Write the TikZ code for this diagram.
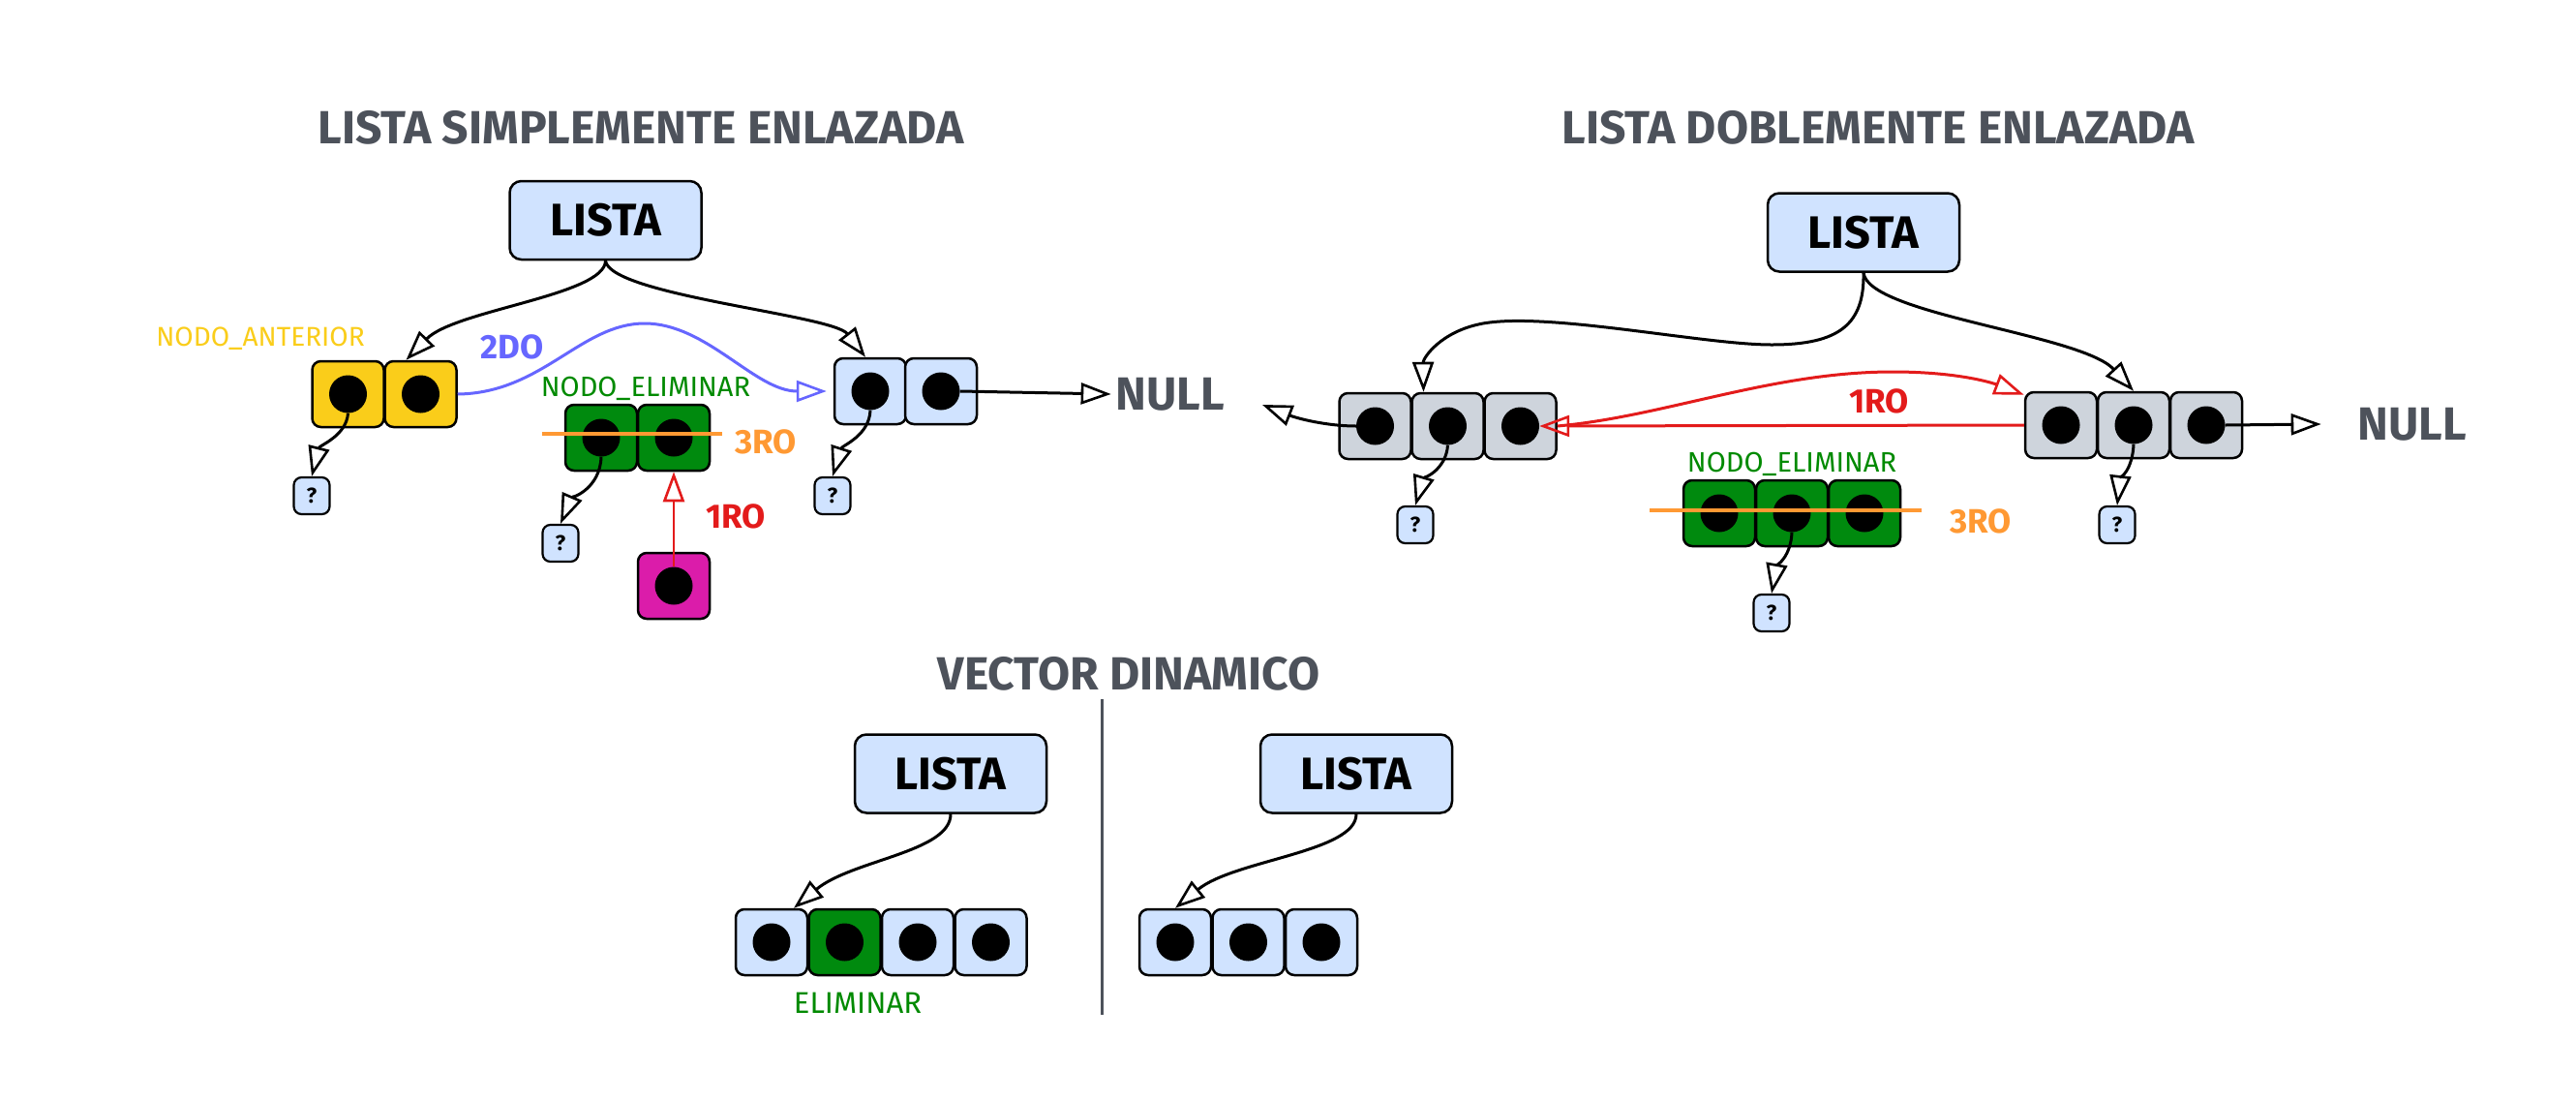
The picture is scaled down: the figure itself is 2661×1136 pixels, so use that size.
\documentclass[tikz,border=0pt]{standalone}
\usepackage{fontspec}
\setmainfont{Fira Sans}
\usetikzlibrary{arrows.meta,calc}
\definecolor{lblue}{HTML}{D0E3FF}
\definecolor{cgray}{HTML}{CED4DC}
\definecolor{cyellow}{HTML}{FACD1A}
\definecolor{cgreen}{HTML}{008A0E}
\definecolor{lgreen}{HTML}{008A00}
\definecolor{cpink}{HTML}{DB1CAA}
\definecolor{tgray}{HTML}{4D525B}
\definecolor{cblue}{HTML}{6666FF}
\definecolor{cred}{HTML}{E31B1B}
\definecolor{corange}{HTML}{FF9933}
\begin{document}
\begin{tikzpicture}[x=1pt,y=-1pt,
  title/.style={text=tgray, font=\fontsize{48}{54}\selectfont\bfseries, inner sep=0pt},
  listabox/.style={draw, line width=2.5pt, rounded corners=12pt, fill=lblue, minimum width=198pt, minimum height=81pt, inner sep=0pt, font=\fontsize{47}{52}\selectfont\bfseries},
  cell/.style={draw, line width=2.5pt, rounded corners=9pt, minimum width=74pt, minimum height=68pt, inner sep=0pt},
  dot/.style={circle, fill=black, minimum size=39pt, inner sep=0pt},
  qbox/.style={draw, line width=2.2pt, rounded corners=8pt, fill=lblue, minimum width=37pt, minimum height=38pt, inner sep=0pt, font=\fontsize{22}{24}\selectfont\bfseries},
  conn/.style={line width=3pt, -{Triangle[open, length=31pt, width=22pt, line width=2.6pt]}},
  lbl/.style={font=\fontsize{28}{32}\selectfont, inner sep=0pt},
  blbl/.style={font=\fontsize{35}{40}\selectfont\bfseries, inner sep=0pt},
  strike/.style={corange, line width=4pt}
]
\path[use as bounding box, fill=white] (0,0) rectangle (2661,1136);

% ================= LEFT: simplemente enlazada =================
\node[title] (tL) at (662,132) {LISTA SIMPLEMENTE ENLAZADA};
\node[listabox] (lL) at (625.5,227.5) {LISTA};

\node[cell, fill=cyellow] (ya) at (359.5,407) {};
\node[cell, fill=cyellow] (yb) at (434.5,407) {};
\node[dot] (yad) at (ya) {};
\node[dot] (ybd) at (yb) {};

\node[cell, fill=lblue] (ba) at (899,404) {};
\node[cell, fill=lblue] (bb) at (972,404) {};
\node[dot] (bad) at (ba) {};
\node[dot] (bbd) at (bb) {};

\node[cell, fill=cgreen] (ga) at (621,452) {};
\node[cell, fill=cgreen] (gb) at (696,452) {};
\node[dot] (gad) at (ga) {};
\node[dot] (gbd) at (gb) {};

\node[cell, fill=cpink] (pk) at (696,605) {};
\node[dot] (pkd) at (pk) {};

\node[qbox] (q1) at (322,512) {?};
\node[qbox] (q2) at (579,561) {?};
\node[qbox] (q3) at (860,512) {?};

\node[title] (nullL) at (1209,407) {NULL};
\node[lbl, text=cyellow] (nant) at (269,350) {NODO\_ANTERIOR};
\node[lbl, font=\fontsize{29}{32}\selectfont, text=lgreen] (nelL) at (667,401) {NODO\_ELIMINAR};
\node[blbl, text=cblue] (l2do) at (529,358) {2DO};
\node[blbl, text=corange] (l3roL) at (791,456) {3RO};
\node[blbl, text=cred] (l1roL) at (760,533) {1RO};

\draw[conn] (lL.south) .. controls (625,305) and (470,320) .. ([xshift=-15pt]yb.north);
\draw[conn] (lL.south) .. controls (630,305) and (860,325) .. ([xshift=-5pt]ba.north);
\draw[conn, cblue] (yb.east) .. controls (560,406) and (600,334) .. (666,334)
   .. controls (730,334) and (780,404) .. ([xshift=-7pt]ba.west);
\draw[conn] (yad.south) .. controls (358,450) and (330,460) .. (q1.north);
\draw[conn] (gad.south) .. controls (620,505) and (590,515) .. (q2.north);
\draw[conn] (bad.south) .. controls (898,450) and (870,460) .. (q3.north);
\draw[conn] (bbd.east) -- ([xshift=-5pt]nullL.west);
\draw[conn, cred, line width=2.5pt] (pkd.north) -- (gb.south);
\coordinate (sL1) at (560,448);
\coordinate (sL2) at (746,448);
\draw[strike] (sL1) -- (sL2);

% ================= RIGHT: doblemente enlazada =================
\node[title] (tR) at (1940,132) {LISTA DOBLEMENTE ENLAZADA};
\node[listabox] (lR) at (1925,240) {LISTA};

\node[cell, fill=cgray] (la) at (1420.5,440) {};
\node[cell, fill=cgray] (lb) at (1495.5,440) {};
\node[cell, fill=cgray] (lc) at (1570.5,440) {};
\node[dot] (lad) at (la) {};
\node[dot] (lbd) at (lb) {};
\node[dot] (lcd) at (lc) {};

\node[cell, fill=cgray] (ra) at (2129,439) {};
\node[cell, fill=cgray] (rb) at (2204,439) {};
\node[cell, fill=cgray] (rc) at (2279,439) {};
\node[dot] (rad) at (ra) {};
\node[dot] (rbd) at (rb) {};
\node[dot] (rcd) at (rc) {};

\node[cell, fill=cgreen] (ea) at (1776,530) {};
\node[cell, fill=cgreen] (eb) at (1851,530) {};
\node[cell, fill=cgreen] (ec) at (1926,530) {};
\node[dot] (ead) at (ea) {};
\node[dot] (ebd) at (eb) {};
\node[dot] (ecd) at (ec) {};

\node[qbox] (q4) at (1462,542) {?};
\node[qbox] (q5) at (2187,542) {?};
\node[qbox] (q6) at (1830,633) {?};

\node[title] (nullR) at (2492,438) {NULL};
\node[lbl, font=\fontsize{29}{32}\selectfont, text=lgreen] (nelR) at (1851,479) {NODO\_ELIMINAR};
\node[blbl, text=corange] (l3roR) at (2046,538) {3RO};
\node[blbl, text=cred] (l1roR) at (1941,414) {1RO};

\coordinate (prevL) at (1304,418);
\draw[conn] (lad.west) .. controls (1370,440) and (1340,432) .. (prevL);
\draw[conn] (lR.south) .. controls (1926,335) and (1900,356) .. (1830,356)
   .. controls (1760,356) and (1600,322) .. (1532,334)
   .. controls (1488,342) and (1470,370) .. ([xshift=-25pt]lb.north);
\draw[conn] (lR.south) .. controls (1930,325) and (2150,345) .. (rb.north);
\draw[conn] (lbd.south) .. controls (1494,485) and (1470,495) .. (q4.north);
\draw[conn] (rbd.south) .. controls (2203,485) and (2190,495) .. (q5.north);
\draw[conn] (ebd.south) .. controls (1850,575) and (1835,585) .. (q6.north);
\draw[conn] (rcd.east) -- ([xshift=-38pt]nullR.west);
\draw[conn, cred, line width=3pt] (ra.west) -- (lcd.east);
\draw[conn, cred, line width=3pt] (lc.east) .. controls (1720,430) and (1830,384) .. (1955,384)
   .. controls (2030,384) and (2065,398) .. ([yshift=-4pt]ra.north west);
\coordinate (sR1) at (1704,527);
\coordinate (sR2) at (1985,527);
\draw[strike] (sR1) -- (sR2);

% ================= BOTTOM: vector dinamico =================
\node[title] (tB) at (1166,696) {VECTOR DINAMICO};
\coordinate (divT) at (1138,722);
\coordinate (divB) at (1138,1048);
\draw[tgray, line width=3pt] (divT) -- (divB);

\node[listabox] (lB1) at (982,799) {LISTA};
\node[listabox] (lB2) at (1401,799) {LISTA};

\node[cell, fill=lblue] (v1) at (797,973) {};
\node[cell, fill=cgreen] (v2) at (872.5,973) {};
\node[cell, fill=lblue] (v3) at (948,973) {};
\node[cell, fill=lblue] (v4) at (1023.5,973) {};
\node[dot] (v1d) at (v1) {};
\node[dot] (v2d) at (v2) {};
\node[dot] (v3d) at (v3) {};
\node[dot] (v4d) at (v4) {};

\node[cell, fill=lblue] (w1) at (1214,973) {};
\node[cell, fill=lblue] (w2) at (1289.5,973) {};
\node[cell, fill=lblue] (w3) at (1365,973) {};
\node[dot] (w1d) at (w1) {};
\node[dot] (w2d) at (w2) {};
\node[dot] (w3d) at (w3) {};

\node[lbl, font=\fontsize{31}{34}\selectfont, text=lgreen] (elim) at (886,1036) {ELIMINAR};

\draw[conn] (lB1.south) .. controls (982,880) and (880,888) .. ([xshift=23pt]v1.north);
\draw[conn] (lB2.south) .. controls (1401,880) and (1275,888) .. (w1.north);
\end{tikzpicture}
\end{document}
